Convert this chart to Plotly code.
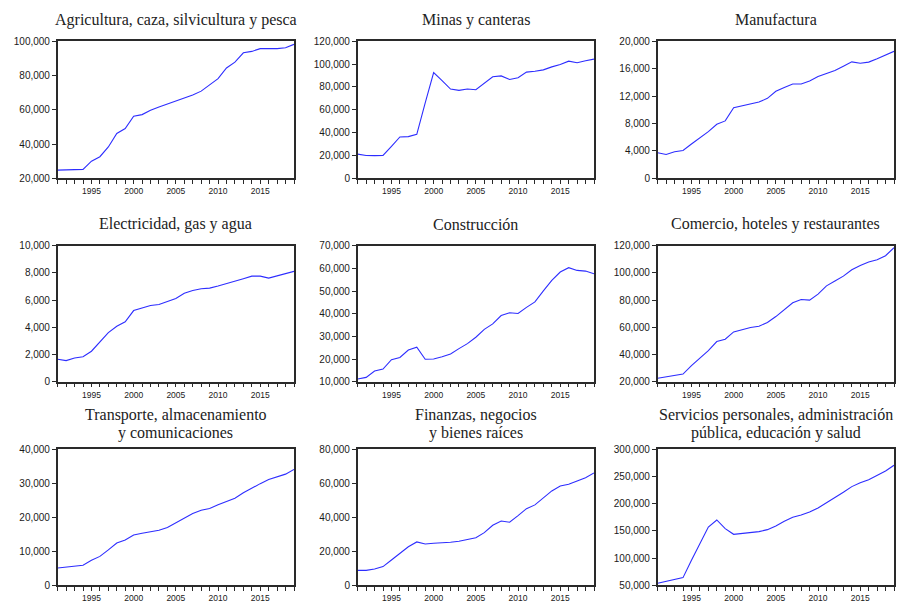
import plotly.graph_objects as go

years = list(range(1991, 2020))

titles = [
    "Agricultura, caza, silvicultura y pesca",
    "Minas y canteras",
    "Manufactura",
    "Electricidad, gas y agua",
    "Construcción",
    "Comercio, hoteles y restaurantes",
    "Transporte, almacenamiento<br>y comunicaciones",
    "Finanzas, negocios<br>y bienes raíces",
    "Servicios personales, administración<br>pública, educación y salud",
]

agricultura = [24800, 24800, 25000, 25200, 30000, 32600, 38300, 46200, 49100, 56300, 57200,
               59700, 61600, 63400, 65200, 66700, 68600, 70900, 74300, 78200, 84400, 87800,
               93300, 94100, 95700, 95700, 95700, 96200, 98200]
minas = [21200, 20000, 19900, 20000, 28000, 36200, 36500, 38500, 66000, 92600, 85600, 78200,
         77000, 78200, 77600, 83200, 89000, 89700, 86500, 88000, 93000, 93800, 95000, 97600,
         99700, 102600, 101200, 103000, 104400]
manufactura = [3720, 3480, 3870, 4070, 5000, 5930, 6810, 7890, 8380, 10290, 10590, 10880,
               11130, 11670, 12700, 13240, 13770, 13770, 14200, 14850, 15340, 15730, 16370,
               17000, 16800, 16960, 17450, 17940, 18530]
electricidad = [1650, 1550, 1740, 1840, 2240, 2920, 3610, 4080, 4400, 5230, 5410, 5600, 5680,
                5920, 6120, 6510, 6710, 6830, 6880, 7030, 7200, 7350, 7570, 7760, 7760, 7620,
                7790, 7960, 8110]
construccion = [11200, 11900, 14700, 15600, 19700, 20700, 24000, 25200, 19900, 20000, 21000,
                22200, 24600, 26800, 29600, 33100, 35500, 39200, 40400, 40100, 42800, 45200,
                50100, 54700, 58400, 60300, 59100, 58800, 57600]
comercio = [22500, 23400, 24400, 25600, 31800, 37000, 42900, 49500, 51200, 56600, 58300, 59800,
            60800, 63500, 67900, 72800, 78000, 80400, 80000, 84400, 90500, 94000, 97600, 102300,
            105500, 108000, 109700, 112600, 118500]
transporte = [5100, 5400, 5600, 5900, 7350, 8500, 10400, 12450, 13300, 14800, 15300, 15800,
              16200, 17000, 18300, 19700, 21100, 22100, 22600, 23700, 24700, 25600, 27200,
              28600, 29900, 31100, 31900, 32700, 34100]
finanzas = [8800, 8800, 9600, 11000, 14900, 19000, 22700, 25500, 24300, 24700, 24900, 25300,
            25900, 26900, 28000, 31000, 35300, 37800, 37100, 41000, 45100, 47300, 51200, 55500,
            58400, 59400, 61400, 63300, 66100]
servicios = [53700, 57400, 60400, 64100, 96000, 127200, 157200, 170100, 154200, 143700, 145000,
             146800, 148700, 152300, 159100, 167600, 175000, 179300, 184800, 192200, 201300,
             211100, 221000, 231400, 238700, 244200, 251600, 260200, 270600]

series = [agricultura, minas, manufactura, electricidad, construccion, comercio,
          transporte, finanzas, servicios]

y_ranges = [(20000, 100000), (0, 120000), (0, 20000), (0, 10000), (10000, 70000),
            (20000, 120000), (0, 40000), (0, 80000), (50000, 300000)]
y_dticks = [20000, 20000, 4000, 2000, 10000, 20000, 10000, 20000, 50000]

W, H = 900, 609
col_px = [(57.7, 294.0), (357.7, 594.0), (657.7, 894.0)]
row_px = [(41.3, 178.3), (245.7, 381.7), (449.3, 585.3)]
title_px = [[20], [224], [415, 433]]

fig = go.Figure()
layout = dict(
    width=W, height=H, autosize=False,
    margin=dict(l=0, r=0, t=0, b=0),
    paper_bgcolor="white", plot_bgcolor="white",
    showlegend=False,
    annotations=[],
)

for i in range(9):
    r, c = divmod(i, 3)
    n = i + 1
    xa = "x" if n == 1 else f"x{n}"
    ya = "y" if n == 1 else f"y{n}"
    fig.add_trace(go.Scatter(
        x=years, y=series[i], mode="lines",
        line=dict(color="rgb(45,45,255)", width=1.1),
        xaxis=xa, yaxis=ya, hoverinfo="skip",
    ))
    x0, x1 = col_px[c]
    t0, t1 = row_px[r]
    common = dict(showline=True, mirror=True, linecolor="#2a2a2a", linewidth=1.5,
                  showgrid=False, zeroline=False, automargin=False)
    layout[f"xaxis{n}"] = dict(
        domain=[x0 / W, x1 / W], anchor=ya, range=[1991, 2019],
        tickmode="linear", tick0=1995, dtick=5, ticks="outside", ticklen=4,
        tickwidth=1, tickcolor="#2a2a2a",
        minor=dict(dtick=1, tick0=1991, ticks="outside", ticklen=4, tickwidth=1,
                   tickcolor="#2a2a2a"),
        tickfont=dict(family="Liberation Sans", size=8.5, color="#1a1a1a"),
        **common,
    )
    layout[f"yaxis{n}"] = dict(
        domain=[1 - t1 / H, 1 - t0 / H], anchor=xa, range=list(y_ranges[i]),
        tickmode="linear", tick0=y_ranges[i][0], dtick=y_dticks[i], tickformat=",d",
        ticks="outside", ticklen=4, tickwidth=1, tickcolor="#2a2a2a",
        tickfont=dict(family="Liberation Sans", size=10, color="#1a1a1a"),
        **common,
    )
    for line_text, ypx in zip(titles[i].split("<br>"), title_px[r]):
        layout["annotations"].append(dict(
            text=line_text, x=(x0 + x1) / 2 / W, y=1 - ypx / H,
            xref="paper", yref="paper", xanchor="center", yanchor="middle",
            showarrow=False, font=dict(family="Liberation Serif", size=16, color="#222"),
        ))

fig.update_layout(**layout)
fig.write_html(
    "out.html",
    config={"displayModeBar": False},
    post_script="document.body.style.margin='0';document.body.style.overflow='hidden';",
)
